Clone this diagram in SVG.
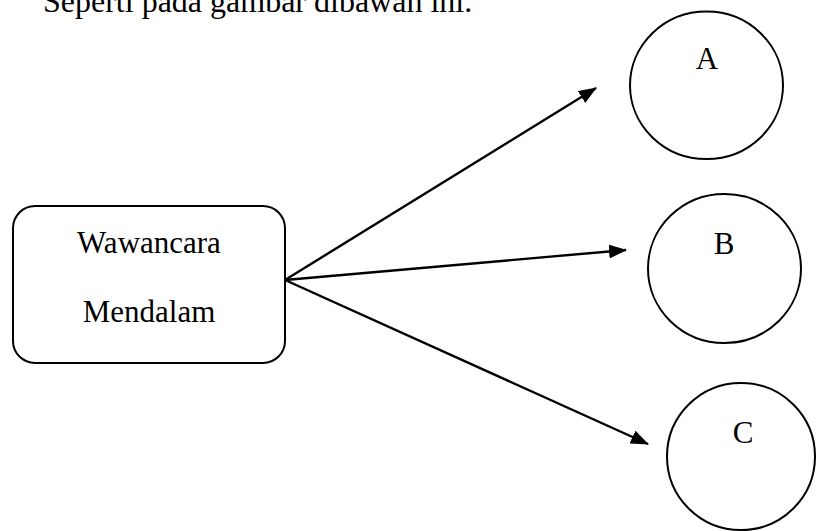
<svg xmlns="http://www.w3.org/2000/svg" width="816" height="531" viewBox="0 0 816 531">
<style>
.t{font-family:"Liberation Serif","Times New Roman",serif;font-size:31px;fill:#000}
.s{fill:#fff;stroke:#000;stroke-width:2}
.c{stroke:#000;stroke-width:2.4;fill:none}
</style>
<defs>
<marker id="ah" viewBox="0 0 18 14" refX="17" refY="7" markerWidth="18" markerHeight="14" markerUnits="userSpaceOnUse" orient="auto">
<path d="M0,0 L18,7 L0,14 Z" fill="#000"/>
</marker>
</defs>
<rect width="816" height="531" fill="#fff"/>
<text class="t" x="43" y="12" style="font-size:32px">Seperti pada gambar dibawah ini.</text>
<g id="connectors">
<line class="c" x1="285" y1="280" x2="596" y2="88" marker-end="url(#ah)"/>
<line class="c" x1="285" y1="280" x2="626" y2="250" marker-end="url(#ah)"/>
<line class="c" x1="285" y1="280" x2="648" y2="444" marker-end="url(#ah)"/>
</g>
<g id="wawancara">
<rect class="s" x="13" y="206" width="272" height="157" rx="22"/>
<text class="t" x="149" y="253" text-anchor="middle">Wawancara</text>
<text class="t" x="149" y="322" text-anchor="middle">Mendalam</text>
</g>
<g id="nodeA">
<ellipse class="s" cx="706.5" cy="85.3" rx="76.5" ry="73.7"/>
<text class="t" x="707" y="69" text-anchor="middle">A</text>
</g>
<g id="nodeB">
<ellipse class="s" cx="724.5" cy="268.5" rx="76.5" ry="74.5"/>
<text class="t" x="724" y="254" text-anchor="middle">B</text>
</g>
<g id="nodeC">
<ellipse class="s" cx="741" cy="456.5" rx="74" ry="73.5"/>
<text class="t" x="743" y="443" text-anchor="middle">C</text>
</g>
</svg>
